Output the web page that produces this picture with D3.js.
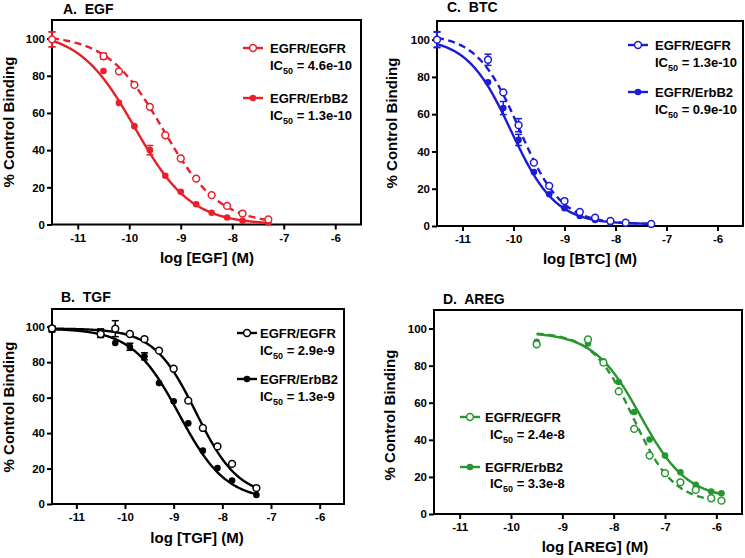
<!DOCTYPE html>
<html>
<head>
<meta charset="utf-8">
<script src="https://cdn.jsdelivr.net/npm/d3@7"></script>
<style>
  body { margin: 0; background: #fff; }
  svg { display: block; font-family: "Liberation Sans", Arial, sans-serif; font-weight: bold; }
</style>
</head>
<body>
<svg id="chart" width="745" height="558"></svg>
<script>
// ---------- data ----------
const xTicks = [-11, -10, -9, -8, -7, -6];
const yTicks = [0, 20, 40, 60, 80, 100];
const seriesNames = ["EGFR/EGFR", "EGFR/ErbB2"];

// A. EGF
const egfX = [-11.5, -10.5, -10.2, -9.9, -9.6, -9.3, -9.0, -8.7, -8.4, -8.1, -7.8, -7.3];
const egfOpen = [99.6, 90.5, 82.4, 75.1, 63.3, 48.0, 35.5, 24.7, 15.8, 10.0, 5.9, 2.7];
const egfOpenErr = [4, 1.5, 0, 0, 0, 0, 0, 0, 0, 0, 0, 0];
const egfFilled = [99.6, 82.6, 65.4, 52.9, 40.0, 26.2, 17.6, 10.9, 6.3, 3.8, 2.0, 1.1];
const egfFilledErr = [4, 0, 0, 0, 2.5, 0, 0, 0, 0, 0, 0, 0];
const egfOpenFit = [102, 0, -9.34, 0.8];    // top, bottom, logIC50, hill
const egfFilledFit = [104, 0, -9.89, 0.8];
const egfIC50 = ["4.6e-10", "1.3e-10"];

// C. BTC
const btcX = [-11.5, -10.5, -10.2, -9.9, -9.6, -9.3, -9.0, -8.7, -8.4, -8.1, -7.8, -7.3];
const btcOpen = [100, 89.2, 71.7, 54.1, 34.0, 21.5, 13.4, 7.5, 4.5, 2.7, 1.8, 1.1];
const btcOpenErr = [4.3, 3, 0, 3.5, 0, 0, 0, 0, 0, 0, 0, 0];
const btcFilled = [100, 77.1, 63.3, 46.2, 29.0, 17.0, 9.5, 5.4, 3.2, 1.8, 1.3, 0.9];
const btcFilledErr = [4, 0, 3.5, 3, 0, 0, 0, 0, 0, 0, 0, 0];
const btcOpenFit = [103, 1, -9.886, 1.05];
const btcFilledFit = [101, 1, -10.046, 1.0];
const btcIC50 = ["1.3e-10", "0.9e-10"];

// B. TGF
const tgfX = [-11.5, -10.5, -10.2, -9.9, -9.6, -9.3, -9.0, -8.7, -8.4, -8.1, -7.8, -7.3];
const tgfOpen = [99, 95.9, 98.9, 95.9, 93.0, 86.5, 76.3, 58.3, 42.9, 32.5, 22.6, 9.0];
const tgfOpenErr = [1.5, 2, 4.5, 0, 0, 0, 0, 0, 0, 0, 0, 0];
const tgfFilled = [98.5, 96.8, 90.8, 88.7, 83.3, 68.2, 57.9, 45.5, 30.1, 20.3, 13.2, 5.1];
const tgfFilledErr = [1.5, 2, 0, 2, 2, 0, 0, 0, 0, 0, 0, 0];
const tgfOpenFit = [99, 4, -8.538, 1.0];
const tgfFilledFit = [99, 2, -8.886, 0.9];
const tgfIC50 = ["2.9e-9", "1.3e-9"];

// D. AREG
const aregX = [-9.5, -8.5, -8.2, -7.9, -7.6, -7.3, -7.0, -6.7, -6.4, -6.1, -5.9];
const aregOpen = [91.5, 94.1, 81.6, 66.1, 45.9, 31.5, 22.0, 17.1, 13.0, 8.5, 7.2];
const aregOpenErr = [0, 0, 0, 0, 0, 0, 0, 0, 0, 0, 0];
const aregFilled = [92.8, 91.9, 82.3, 71.2, 55.0, 40.2, 31.5, 22.5, 15.7, 12.1, 11.2];
const aregFilledErr = [0, 0, 0, 0, 0, 0, 0, 0, 0, 0, 0];
const aregOpenFit = [98, 6, -7.62, 1.1];
const aregFilledFit = [98, 8, -7.48, 0.95];
const aregIC50 = ["2.4e-8", "3.3e-8"];

// ---------- layout / style ----------
const panels = [
  { title: "A.  EGF", xlab: "log [EGF] (M)", color: "#e8202a", openDash: "7,4.5",
    x: egfX, open: egfOpen, openErr: egfOpenErr, filled: egfFilled, filledErr: egfFilledErr,
    openFit: egfOpenFit, filledFit: egfFilledFit, ic: egfIC50,
    box: [52, 361, 20, 224.5], titlePos: [63, 13.5], xlabPos: [207, 262.5], ylabPos: [9, 122],
    leg: { x0: 243, x1: 263, tx: 270, icx: 270, rows: [48, 65, 98, 115] } },
  { title: "C.  BTC", xlab: "log [BTC] (M)", color: "#1c1cd6", openDash: "7,4.5",
    x: btcX, open: btcOpen, openErr: btcOpenErr, filled: btcFilled, filledErr: btcFilledErr,
    openFit: btcOpenFit, filledFit: btcFilledFit, ic: btcIC50,
    box: [437, 743, 21, 226], titlePos: [447, 12], xlabPos: [590, 263.5], ylabPos: [392, 123],
    leg: { x0: 628, x1: 648, tx: 655, icx: 655, rows: [45, 62, 92, 109] } },
  { title: "B.  TGF", xlab: "log [TGF] (M)", color: "#000000", openDash: null,
    x: tgfX, open: tgfOpen, openErr: tgfOpenErr, filled: tgfFilled, filledErr: tgfFilledErr,
    openFit: tgfOpenFit, filledFit: tgfFilledFit, ic: tgfIC50,
    box: [52, 344, 309, 504], titlePos: [61, 302], xlabPos: [197, 542.5], ylabPos: [9, 407],
    leg: { x0: 237, x1: 257, tx: 260, icx: 260, rows: [333, 350, 379, 396] } },
  { title: "D.  AREG", xlab: "log [AREG] (M)", color: "#27962f", openDash: "7,4.5",
    x: aregX, open: aregOpen, openErr: aregOpenErr, filled: aregFilled, filledErr: aregFilledErr,
    openFit: aregOpenFit, filledFit: aregFilledFit, ic: aregIC50,
    box: [434, 742, 310, 514], titlePos: [443, 303.5], xlabPos: [595, 552], ylabPos: [390, 415],
    leg: { x0: 460, x1: 480, tx: 485, icx: 490, rows: [417, 434, 467, 483] } }
];

const svg = d3.select("#chart");

function fourPL(p) {
  const [top, bottom, logIC50, hill] = p;
  return x => bottom + (top - bottom) / (1 + Math.pow(10, (x - logIC50) * hill));
}

panels.forEach(P => {
  const [L, R, T, B] = P.box;
  const g = svg.append("g");
  const x = d3.scaleLinear().domain([-11.5, -5.5]).range([L, R]);
  const y = d3.scaleLinear().domain([0, 110]).range([B, T]);

  // axes
  const ax = g.append("g").attr("transform", `translate(0,${B})`)
    .call(d3.axisBottom(x).tickValues(xTicks).tickSize(5).tickPadding(4).tickFormat(d3.format("d")));
  const ay = g.append("g").attr("transform", `translate(${L},0)`)
    .call(d3.axisLeft(y).tickValues(yTicks).tickSize(5).tickPadding(2).tickFormat(d3.format("d")));
  [ax, ay].forEach(a => {
    a.select(".domain").remove();
    a.selectAll(".tick line").attr("stroke", "#000").attr("stroke-width", 2);
    a.selectAll(".tick text").attr("fill", "#000").style("font-size", "11.5px")
      .style("font-weight", "bold").style("font-family", '"Liberation Sans", Arial, sans-serif');
  });
  ax.selectAll(".tick text").text(d => d3.format("d")(d).replace("−", "-"));

  // frame
  g.append("rect").attr("x", L).attr("y", T).attr("width", R - L).attr("height", B - T)
    .attr("fill", "none").attr("stroke", "#000").attr("stroke-width", 2);

  // titles
  g.append("text").attr("x", P.titlePos[0]).attr("y", P.titlePos[1])
    .attr("font-size", 14).attr("xml:space", "preserve").style("white-space", "pre").text(P.title);
  g.append("text").attr("x", P.xlabPos[0]).attr("y", P.xlabPos[1]).attr("text-anchor", "middle")
    .attr("font-size", 15).text(P.xlab);
  g.append("text").attr("transform", `translate(${P.ylabPos[0]},${P.ylabPos[1]}) rotate(-90)`)
    .attr("text-anchor", "middle").attr("dy", "0.35em").attr("font-size", 15).text("% Control Binding");

  // fitted curves
  const line = d3.line().x(d => x(d[0])).y(d => y(d[1]));
  const xmin = d3.min(P.x), xmax = d3.max(P.x);
  const grid = d3.range(0, 201).map(i => xmin + (xmax - xmin) * i / 200);
  const fo = fourPL(P.openFit), ff = fourPL(P.filledFit);
  g.append("path").datum(grid.map(v => [v, ff(v)])).attr("d", line)
    .attr("fill", "none").attr("stroke", P.color).attr("stroke-width", 2.4);
  g.append("path").datum(grid.map(v => [v, fo(v)])).attr("d", line)
    .attr("fill", "none").attr("stroke", P.color).attr("stroke-width", 2.4)
    .attr("stroke-dasharray", P.openDash);

  // error bars
  function errBars(vals, errs) {
    P.x.forEach((xv, i) => {
      const e = errs[i];
      if (!e) return;
      const cx = x(xv), y1 = y(vals[i] + e), y2 = y(vals[i] - e);
      g.append("line").attr("x1", cx).attr("x2", cx).attr("y1", y1).attr("y2", y2)
        .attr("stroke", P.color).attr("stroke-width", 1.5);
      [y1, y2].forEach(yy => g.append("line").attr("x1", cx - 3.5).attr("x2", cx + 3.5)
        .attr("y1", yy).attr("y2", yy).attr("stroke", P.color).attr("stroke-width", 1.5));
    });
  }
  errBars(P.filled, P.filledErr);
  errBars(P.open, P.openErr);

  // markers
  g.selectAll(null).data(P.x.map((v, i) => [v, P.filled[i]])).enter().append("circle")
    .attr("cx", d => x(d[0])).attr("cy", d => y(d[1])).attr("r", 3.3).attr("fill", P.color);
  g.selectAll(null).data(P.x.map((v, i) => [v, P.open[i]])).enter().append("circle")
    .attr("cx", d => x(d[0])).attr("cy", d => y(d[1])).attr("r", 3.4)
    .attr("fill", "#fff").attr("stroke", P.color).attr("stroke-width", 1.5);

  // legend
  const lg = P.leg;
  [0, 1].forEach(k => {
    const ly = lg.rows[k * 2];
    g.append("line").attr("x1", lg.x0).attr("x2", lg.x1).attr("y1", ly).attr("y2", ly)
      .attr("stroke", P.color).attr("stroke-width", 2.4);
    const c = g.append("circle").attr("cx", (lg.x0 + lg.x1) / 2).attr("cy", ly);
    if (k === 0) c.attr("r", 3.4).attr("fill", "#fff").attr("stroke", P.color).attr("stroke-width", 1.5);
    else c.attr("r", 3.3).attr("fill", P.color);
    g.append("text").attr("x", lg.tx).attr("y", ly).attr("dy", "0.36em").attr("font-size", 13)
      .text(seriesNames[k]);
    const t = g.append("text").attr("x", lg.icx).attr("y", lg.rows[k * 2 + 1]).attr("dy", "0.36em")
      .attr("font-size", 13);
    t.append("tspan").text("IC");
    t.append("tspan").attr("font-size", 9).attr("dy", 4).text("50");
    t.append("tspan").attr("dy", -4).text(" = " + P.ic[k]);
  });
});
</script>
</body>
</html>
